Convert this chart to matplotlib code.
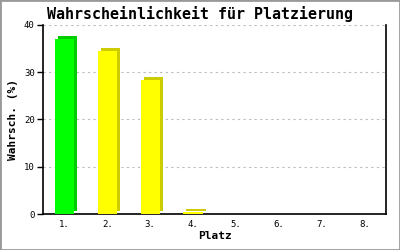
import matplotlib
matplotlib.use("Agg")
import matplotlib.pyplot as plt
from matplotlib.transforms import offset_copy
from matplotlib.patches import Rectangle

places = ["1.", "2.", "3.", "4.", "5.", "6.", "7.", "8."]
probs = [37.0, 34.6, 28.4, 0.4, 0.0, 0.0, 0.0, 0.0]
front_colors = ["#00ff00", "#ffff00", "#ffff00", "#ffff00", "#ffff00", "#ffff00", "#ffff00", "#ffff00"]
side_colors = ["#00cc00", "#cccc00", "#cccc00", "#cccc00", "#cccc00", "#cccc00", "#cccc00", "#cccc00"]
yticks = [0, 10, 20, 30, 40]

plt.rcParams['font.family'] = ['DejaVu Sans Mono']

fig = plt.figure(figsize=(4, 2.5), dpi=100)
fig.patches.append(Rectangle((0, 0), 1, 1, transform=fig.transFigure, fill=False,
                             edgecolor="#999999", linewidth=2))
ax = fig.add_axes([0.1075, 0.144, 0.8575, 0.756])

xs = list(range(1, len(places) + 1))
w = 0.45
shadow = offset_copy(ax.transData, fig=fig, x=3, y=3, units='dots')
for x, v, fc, sc in zip(xs, probs, front_colors, side_colors):
    if v > 0:
        ax.bar(x, v, width=w, color=sc, transform=shadow, zorder=2)
        ax.bar(x, v, width=w, color=fc, zorder=3)

ax.set_xlim(0.5, 8.5)
ax.set_ylim(0, 40)
ax.set_xticks(xs)
ax.set_xticklabels(places)
ax.set_yticks(yticks)
ax.tick_params(axis='x', length=0, labelsize=6.5, pad=4)
ax.tick_params(axis='y', length=4, width=1, labelsize=6.5, pad=2)
for t in yticks[1:]:
    ax.axhline(t, color="#bbbbbb", linestyle=(0, (2, 3)), linewidth=0.8, zorder=1)
ax.spines['top'].set_visible(False)
for s in ['left', 'bottom', 'right']:
    ax.spines[s].set_linewidth(1.2)
ax.set_xlabel("Platz", fontsize=8, fontweight='bold', labelpad=2)
ax.set_ylabel("Wahrsch. (%)", fontsize=8, fontweight='bold', labelpad=4)
fig.text(0.5, 0.945, "Wahrscheinlichkeit für Platzierung", ha='center', va='center',
         fontsize=10.8, fontweight='bold')

fig.savefig("out.png", dpi=100)
